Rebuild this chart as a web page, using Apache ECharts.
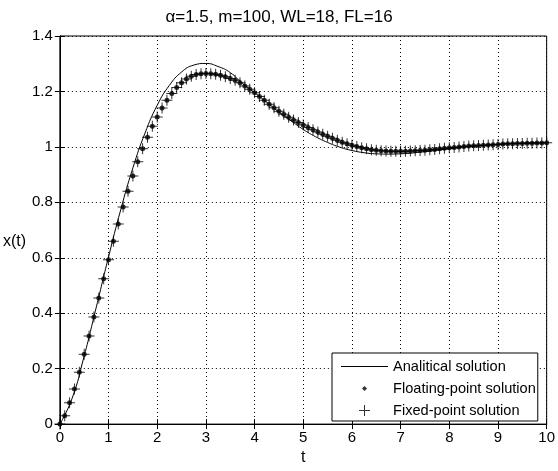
<!DOCTYPE html>
<html>
<head>
<meta charset="utf-8">
<script src="https://cdn.jsdelivr.net/npm/echarts@6/dist/echarts.min.js"></script>
<style>
html,body{margin:0;padding:0;background:#fff;}
#chart{width:558px;height:471px;}
</style>
</head>
<body>
<div id="chart"></div>
<script>
// ---- data ----
const titleText = 'α=1.5, m=100, WL=18, FL=16';
const seriesNames = ['Analitical solution', 'Floating-point solution', 'Fixed-point solution'];
const xTicks = [0, 1, 2, 3, 4, 5, 6, 7, 8, 9, 10];
const yTicks = [0, 0.2, 0.4, 0.6, 0.8, 1, 1.2, 1.4];

// analytical solution (sample times and values)
const anaT = [0, 0.25, 0.5, 0.75, 1, 1.25, 1.5, 1.75, 2, 2.25, 2.5, 2.75, 3, 3.25, 3.5, 3.75,
  4, 4.25, 4.5, 4.75, 5, 5.25, 5.5, 5.75, 6, 6.25, 6.5, 6.75, 7, 7.5, 8, 8.5, 9, 9.5, 10];
const anaV = [0, 0.092, 0.246, 0.423, 0.603, 0.773, 0.924, 1.050, 1.150, 1.222, 1.270, 1.295, 1.301, 1.290, 1.268, 1.229,
  1.196, 1.161, 1.126, 1.094, 1.063, 1.037, 1.016, 0.999, 0.987, 0.979, 0.975, 0.974, 0.975, 0.983, 0.993, 1.002, 1.009, 1.014, 1.015];

// numerical solutions, sampled every 0.1
const numT = [
  0, 0.1, 0.2, 0.3, 0.4, 0.5, 0.6, 0.7, 0.8, 0.9,
  1, 1.1, 1.2, 1.3, 1.4, 1.5, 1.6, 1.7, 1.8, 1.9,
  2, 2.1, 2.2, 2.3, 2.4, 2.5, 2.6, 2.7, 2.8, 2.9,
  3, 3.1, 3.2, 3.3, 3.4, 3.5, 3.6, 3.7, 3.8, 3.9,
  4, 4.1, 4.2, 4.3, 4.4, 4.5, 4.6, 4.7, 4.8, 4.9,
  5, 5.1, 5.2, 5.3, 5.4, 5.5, 5.6, 5.7, 5.8, 5.9,
  6, 6.1, 6.2, 6.3, 6.4, 6.5, 6.6, 6.7, 6.8, 6.9,
  7, 7.1, 7.2, 7.3, 7.4, 7.5, 7.6, 7.7, 7.8, 7.9,
  8, 8.1, 8.2, 8.3, 8.4, 8.5, 8.6, 8.7, 8.8, 8.9,
  9, 9.1, 9.2, 9.3, 9.4, 9.5, 9.6, 9.7, 9.8, 9.9,
  10];
const floatV = [
  0, 0.030, 0.077, 0.127, 0.187, 0.252, 0.318, 0.386, 0.455, 0.524,
  0.593, 0.660, 0.722, 0.783, 0.840, 0.895, 0.946, 0.993, 1.035, 1.074,
  1.108, 1.140, 1.168, 1.193, 1.214, 1.231, 1.245, 1.255, 1.261, 1.264,
  1.265, 1.264, 1.262, 1.258, 1.253, 1.247, 1.240, 1.231, 1.220, 1.208,
  1.195, 1.182, 1.168, 1.154, 1.141, 1.129, 1.118, 1.107, 1.097, 1.088,
  1.079, 1.070, 1.062, 1.054, 1.046, 1.038, 1.031, 1.024, 1.017, 1.011,
  1.006, 1.001, 0.997, 0.993, 0.990, 0.988, 0.986, 0.985, 0.984, 0.984,
  0.984, 0.984, 0.985, 0.986, 0.987, 0.988, 0.990, 0.991, 0.993, 0.995,
  0.997, 0.998, 1.000, 1.001, 1.003, 1.004, 1.005, 1.006, 1.007, 1.008,
  1.009, 1.010, 1.011, 1.011, 1.012, 1.012, 1.013, 1.013, 1.014, 1.014,
  1.015];
const fixedV = [
  0, 0.030, 0.077, 0.127, 0.187, 0.252, 0.318, 0.386, 0.455, 0.524,
  0.593, 0.660, 0.722, 0.783, 0.840, 0.895, 0.946, 0.993, 1.035, 1.074,
  1.108, 1.140, 1.168, 1.193, 1.214, 1.231, 1.245, 1.255, 1.261, 1.264,
  1.265, 1.264, 1.262, 1.258, 1.253, 1.247, 1.240, 1.231, 1.220, 1.208,
  1.195, 1.182, 1.168, 1.154, 1.141, 1.129, 1.118, 1.107, 1.097, 1.088,
  1.079, 1.070, 1.062, 1.054, 1.046, 1.038, 1.031, 1.024, 1.017, 1.011,
  1.006, 1.001, 0.997, 0.993, 0.990, 0.988, 0.986, 0.985, 0.984, 0.984,
  0.984, 0.984, 0.985, 0.986, 0.987, 0.988, 0.990, 0.991, 0.993, 0.995,
  0.997, 0.998, 1.000, 1.001, 1.003, 1.004, 1.005, 1.006, 1.007, 1.008,
  1.009, 1.010, 1.011, 1.011, 1.012, 1.012, 1.013, 1.013, 1.014, 1.014,
  1.015];

// ---- styling ----
const FONT = '"Liberation Sans", Arial, sans-serif';
const plusPath = 'path://M5,0L6,0L6,11L5,11Z M0,5L11,5L11,6L0,6Z';
const iconLine = 'path://M0,0M47,12M0,5.5L47,5.5L47,6.5L0,6.5Z';
const iconDot = 'path://M0,0M47,12M23.5,3.5L26,6L23.5,8.5L21,6Z';
const iconPlus = 'path://M0,0M47,12M23,0.5L24,0.5L24,11.5L23,11.5Z M18,5.5L29,5.5L29,6.5L18,6.5Z';

const zip = (a, b) => a.map((v, i) => [v, b[i]]);

const chart = echarts.init(document.getElementById('chart'), null, {renderer: 'canvas'});
const axisCommon = {
  type: 'value',
  axisLine: {show: true, lineStyle: {color: '#000', width: 1}},
  axisTick: {show: true, inside: true, length: 5, lineStyle: {color: '#000', width: 1}},
};
chart.setOption({
  animation: false,
  backgroundColor: '#fff',
  title: {
    text: titleText, left: 'center', top: 4,
    textStyle: {fontFamily: FONT, fontSize: 17, fontWeight: 'normal', color: '#000'}
  },
  grid: {left: 53, right: 7, top: 36, bottom: 43, show: true, borderColor: '#000', borderWidth: 1, backgroundColor: '#fff'},
  legend: {
    orient: 'vertical', left: 332, top: 353,
    padding: [6, 2, 3, 9], itemGap: 7, itemWidth: 47, itemHeight: 12,
    borderColor: '#000', borderWidth: 1, borderRadius: 0, backgroundColor: '#fff',
    selectedMode: false,
    textStyle: {fontFamily: FONT, fontSize: 14.6, color: '#000'},
    data: [
      {name: seriesNames[0], icon: iconLine},
      {name: seriesNames[1], icon: iconDot},
      {name: seriesNames[2], icon: iconPlus}
    ]
  },
  xAxis: [
    Object.assign({}, axisCommon, {
      min: xTicks[0], max: xTicks[xTicks.length - 1], interval: 1, position: 'bottom',
      axisLabel: {color: '#000', fontFamily: FONT, fontSize: 15, margin: 6},
      splitLine: {show: true, lineStyle: {type: [1, 3], color: '#000', width: 1}},
      name: 't', nameLocation: 'middle', nameGap: 22,
      nameTextStyle: {fontFamily: FONT, fontSize: 16, color: '#000'}
    }),
    Object.assign({}, axisCommon, {
      min: xTicks[0], max: xTicks[xTicks.length - 1], interval: 1, position: 'top',
      axisLabel: {show: false}, splitLine: {show: false}
    })
  ],
  yAxis: [
    Object.assign({}, axisCommon, {
      min: yTicks[0], max: yTicks[yTicks.length - 1], interval: 0.2, position: 'left',
      axisLabel: {color: '#000', fontFamily: FONT, fontSize: 15, margin: 7},
      splitLine: {show: true, lineStyle: {type: [1, 3], color: '#000', width: 1}},
      name: 'x(t)', nameLocation: 'middle', nameRotate: 0, nameGap: 27,
      nameTextStyle: {fontFamily: FONT, fontSize: 16, color: '#000', verticalAlign: 'top', lineHeight: 24}
    }),
    Object.assign({}, axisCommon, {
      min: yTicks[0], max: yTicks[yTicks.length - 1], interval: 0.2, position: 'right',
      axisLabel: {show: false}, splitLine: {show: false}
    })
  ],
  series: [
    {
      name: seriesNames[0], type: 'line', xAxisIndex: 0, yAxisIndex: 0,
      data: zip(anaT, anaV), symbol: 'none', smooth: true,
      color: '#000', lineStyle: {color: '#000', width: 1}, z: 3
    },
    {
      name: seriesNames[1], type: 'scatter', xAxisIndex: 0, yAxisIndex: 0,
      data: zip(numT, floatV), symbol: 'circle', symbolSize: 5,
      color: '#000', itemStyle: {color: '#000'}, z: 4
    },
    {
      name: seriesNames[2], type: 'scatter', xAxisIndex: 0, yAxisIndex: 0,
      data: zip(numT, fixedV), symbol: plusPath, symbolSize: 11,
      color: '#000', itemStyle: {color: '#000'}, z: 4
    }
  ]
});
</script>
</body>
</html>
